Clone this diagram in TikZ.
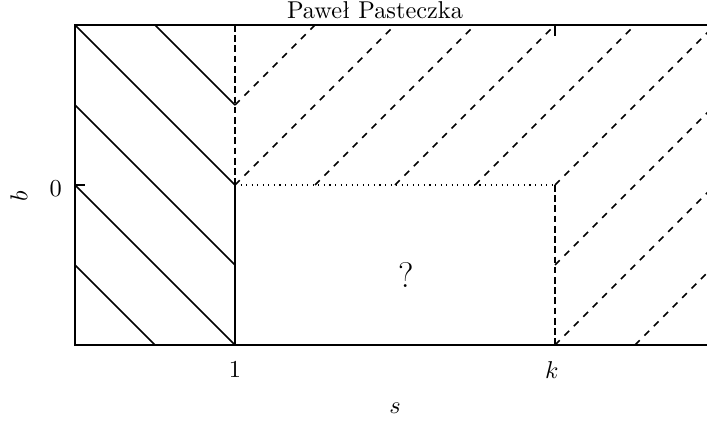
\documentclass[tikz,border=0pt]{standalone}
\begin{document}
\begin{tikzpicture}[x=72pt,y=72pt,
  font=\fontsize{10.95}{13}\selectfont,
  frameline/.style={line width=0.7pt},
  solidhatch/.style={line width=0.7pt},
  dashhatch/.style={line width=0.7pt,dash pattern=on 3pt off 3pt},
  vdash/.style={line width=0.5pt,dash pattern=on 3pt off 1.6pt},
  zeroline/.style={line width=0.5pt,dotted},
  lbl/.style={inner sep=0pt}]
\useasboundingbox (-0.46875,-1.4875) rectangle (3.95,1.15625);
\clip (-0.46875,-1.4875) rectangle (3.95,1.15625);
% frame
\draw[frameline] (0,-1) rectangle (4,1);
% ticks
\draw[line width=0.5pt] (0,0) -- (0.065,0);
\draw[line width=0.5pt] (3,1) -- (3,0.93);
% solid hatching (left strip)
\draw[solidhatch] (0.5,1) -- (1,0.5);
\draw[solidhatch] (0,1) -- (1,0);
\draw[solidhatch] (0,0.5) -- (1,-0.5);
\draw[solidhatch] (0,0) -- (1,-1);
\draw[solidhatch] (0,-0.5) -- (0.5,-1);
% dashed hatching
\draw[dashhatch] (1,0.5) -- (1.5,1);
\draw[dashhatch] (1,0) -- (2,1);
\draw[dashhatch] (1.5,0) -- (2.5,1);
\draw[dashhatch] (2,0) -- (3,1);
\draw[dashhatch] (2.5,0) -- (3.5,1);
\draw[dashhatch] (3,0) -- (4,1);
\draw[dashhatch] (3,-0.5) -- (4.5,1);
\draw[dashhatch] (3,-1) -- (4,0);
\draw[dashhatch] (3.5,-1) -- (4,-0.5);
% boundaries
\draw[vdash] (1,1) -- (1,0);
\draw[line width=0.6pt] (1,0) -- (1,-1);
\draw[zeroline] (1,0) -- (3,0);
\draw[vdash] (3,0) -- (3,-1);
% labels
\node[lbl] (zero) at (-0.12,-0.02) {$0$};
\node[lbl,rotate=90] (blab) at (-0.35,-0.07) {$b$};
\node[lbl] (one) at (1,-1.156) {$1$};
\node[lbl] (klab) at (2.98,-1.156) {$k$};
\node[lbl] (slab) at (2.0,-1.394) {$s$};
\node[lbl,font=\fontsize{16}{18}\selectfont] (q) at (2.07,-0.5625) {?};
\node[lbl,anchor=base] (title) at (1.875,1.0375) {Paweł Pasteczka};
\end{tikzpicture}
\end{document}
